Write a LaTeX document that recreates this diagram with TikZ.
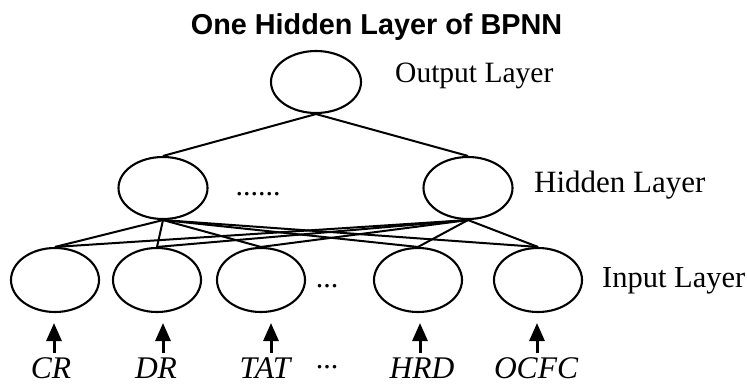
\documentclass[tikz,border=0pt]{standalone}
\usepackage{fontspec}
\setmainfont{Liberation Serif}
\newfontfamily\titlefont{Liberation Sans}
\usetikzlibrary{shapes.geometric,arrows.meta}
\tikzset{
  neuron/.style={ellipse, draw, line width=2.1pt, minimum width=89pt, minimum height=62pt, inner sep=0pt},
  inneuron/.style={ellipse, draw, line width=2.1pt, minimum width=88pt, minimum height=64pt, inner sep=0pt},
  link/.style={line width=2pt},
  layerlabel/.style={anchor=base west, inner sep=0pt, font=\fontsize{30}{36}\selectfont},
  varlabel/.style={anchor=base, inner sep=0pt, font=\fontsize{31.5}{36}\selectfont\itshape},
  uparrow/.style={line width=3pt, -{Triangle[length=18pt,width=15pt]}},
  dotstext/.style={anchor=base, inner sep=0pt, font=\fontsize{30}{36}\selectfont}
}
\begin{document}
\begin{tikzpicture}[x=1pt,y=-1pt]
\useasboundingbox (0,0) rectangle (747,385);
% title
\node[anchor=base, inner sep=0pt, font=\titlefont\bfseries\fontsize{28.8}{34}\selectfont] (title) at (376.5,35) {One Hidden Layer of BPNN};
% output layer
\node[neuron, minimum width=90pt] (out) at (316,82) {};
\node[layerlabel, font=\fontsize{29.5}{35}\selectfont] (outlab) at (395,83) {Output Layer};
% hidden layer
\node[neuron] (h1) at (163,188) {};
\node[neuron] (h2) at (468,188) {};
\node[dotstext] (hdots) at (258,195) {......};
\node[layerlabel, font=\fontsize{31}{37}\selectfont] (hidlab) at (534,193) {Hidden Layer};
% input layer
\node[inneuron] (i1) at (55,280) {};
\node[inneuron] (i2) at (157,280) {};
\node[inneuron] (i3) at (261,280) {};
\node[inneuron] (i4) at (418,280) {};
\node[inneuron] (i5) at (538,280) {};
\node[dotstext] (idots) at (327,287) {...};
\node[layerlabel, font=\fontsize{30.5}{36}\selectfont] (inlab) at (602,287) {Input Layer};
% connections
\draw[link] (out.south) -- (h1.north);
\draw[link] (out.south) -- (h2.north);
\foreach \i in {1,...,5}{
  \draw[link] (h1.south) -- (i\i.north);
  \draw[link] (h2.south) -- (i\i.north);
}
% input arrows
\foreach \n/\x in {1/54,2/163,3/271,4/420,5/537}{
  \coordinate (b\n) at (\x,353);
  \coordinate (t\n) at (\x,323);
  \draw[uparrow] (b\n) -- (t\n);
}
% variable labels
\node[varlabel] (cr) at (51,378) {CR};
\node[varlabel] (dr) at (156,378) {DR};
\node[varlabel] (tat) at (265,378) {TAT};
\node[dotstext] (vdots) at (327,368) {...};
\node[varlabel] (hrd) at (422,378) {HRD};
\node[varlabel] (ocfc) at (536,378) {OCFC};
\end{tikzpicture}
\end{document}
